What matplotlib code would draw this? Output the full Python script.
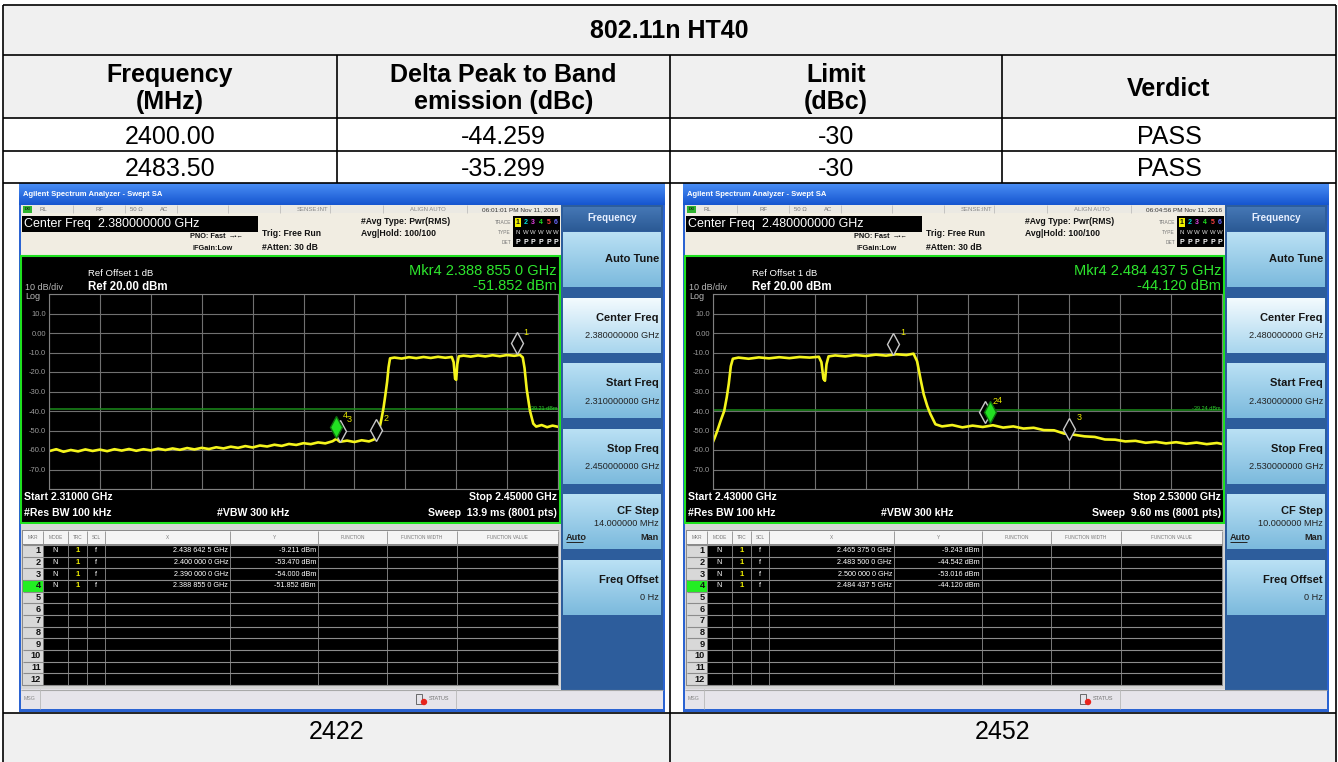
import numpy as np
import matplotlib
matplotlib.use("Agg")
import matplotlib.pyplot as plt
from matplotlib.patches import Rectangle, Circle
from matplotlib.transforms import ScaledTranslation
from matplotlib.colors import to_rgb

plt.rcParams['font.family'] = ['Liberation Sans', 'DejaVu Sans']

#================================================================================#
## table contents
table_title = "802.11n HT40"
col_headers = ["Frequency\n(MHz)", "Delta Peak to Band\nemission (dBc)", "Limit\n(dBc)", "Verdict"]
freq_mhz = ["2400.00", "2483.50"]
delta_dbc = ["-44.259", "-35.299"]
limit_dbc = ["-30", "-30"]
verdict = ["PASS", "PASS"]
channels = ["2422", "2452"]

## analyzer settings (left screen = ch 2422, right screen = ch 2452)
start_mhz = [2310, 2430]
stop_mhz = [2450, 2530]
sweep_txt = ["13.9 ms (8001 pts)", "9.60 ms (8001 pts)"]
time_txt = ["06:01:01 PM Nov 11, 2016", "06:04:56 PM Nov 11, 2016"]
display_line = [-39.21, -39.24]

## marker table, MKR 1..4
left_mkr_f = [2438.6425, 2400.0, 2390.0, 2388.855]
left_mkr_db = [-9.211, -53.470, -54.000, -51.852]
right_mkr_f = [2465.375, 2483.5, 2500.0, 2484.4375]
right_mkr_db = [-9.243, -44.542, -53.016, -44.120]

## traces (MHz, dBm)
left_trace = [
    (2310, -60.6), (2312, -59.6), (2314, -60.9), (2316, -60.0), (2318, -60.7), (2320, -59.7),
    (2322, -60.5), (2324, -59.8), (2326, -60.6), (2328, -59.6), (2330, -60.3), (2332, -59.5),
    (2334, -60.4), (2336, -59.6), (2338, -60.2), (2340, -59.3), (2342, -60.0), (2344, -59.2),
    (2346, -59.9), (2348, -59.0), (2350, -59.7), (2352, -58.9), (2354, -59.5), (2356, -58.6),
    (2358, -59.2), (2360, -58.3), (2362, -58.9), (2364, -58.0), (2366, -58.7), (2368, -57.7),
    (2370, -58.2), (2372, -57.3), (2374, -57.9), (2376, -56.9), (2378, -57.4), (2380, -56.5),
    (2382, -57.0), (2384, -56.1), (2386, -56.6), (2388, -55.5), (2389, -54.3), (2390, -55.8),
    (2392, -55.2), (2394, -55.9), (2396, -55.0), (2398, -55.6), (2399.4, -54.6), (2400.3, -52.5),
    (2401.0, -48.0), (2401.5, -43.5), (2402.0, -38.5), (2402.5, -32.0), (2403.0, -25.0),
    (2403.4, -17.5), (2403.8, -13.0), (2405, -12.6), (2407, -13.1), (2409, -12.4), (2411, -12.9),
    (2413, -12.3), (2415, -12.8), (2417, -12.2), (2419, -12.7), (2420.8, -12.3), (2421.3, -15.0),
    (2421.7, -23.5), (2422.0, -24.0), (2422.3, -16.0), (2422.7, -12.0), (2424, -11.6),
    (2426, -12.1), (2428, -11.5), (2430, -12.0), (2432, -11.4), (2434, -11.9), (2436, -11.3),
    (2438, -11.7), (2439.5, -11.2), (2440.3, -12.5), (2440.8, -18.0), (2441.4, -29.0),
    (2442.3, -40.0), (2443.2, -46.5), (2444.0, -48.0), (2445.5, -47.2), (2447, -48.3),
    (2448.5, -47.5), (2450, -48.1),
]
right_trace = [
    (2430.0, -55.8), (2430.3, -54.0), (2430.8, -50.5), (2431.5, -45.0), (2432.2, -40.0),
    (2432.7, -33.0), (2433.1, -26.0), (2433.5, -17.0), (2433.9, -13.2), (2435, -12.6),
    (2437, -13.2), (2439, -12.5), (2441, -13.0), (2443, -12.4), (2445, -12.9), (2447, -12.3),
    (2449, -12.6), (2450.8, -12.2), (2451.3, -15.0), (2451.7, -23.5), (2452.0, -24.5),
    (2452.3, -16.0), (2452.7, -12.0), (2454, -11.5), (2456, -12.0), (2458, -11.3), (2460, -11.8),
    (2462, -11.1), (2464, -11.6), (2466, -10.9), (2468, -11.3), (2469.4, -10.6), (2470.1, -14.5),
    (2470.8, -24.0), (2471.4, -31.5), (2472.1, -37.5), (2472.7, -41.5), (2473.7, -46.8),
    (2475, -47.9), (2477, -47.2), (2479, -48.4), (2481, -47.5), (2483, -48.2), (2485, -47.3),
    (2487, -48.5), (2489, -47.9), (2491, -49.0), (2493, -48.6), (2495, -49.8), (2497, -49.9),
    (2499, -51.6), (2501, -52.2), (2503, -53.0), (2505, -53.3), (2507, -54.6), (2509, -54.7),
    (2511, -55.6), (2513, -55.3), (2515, -56.3), (2517, -55.8), (2519, -56.6), (2521, -56.0),
    (2523, -56.8), (2525, -56.2), (2527, -57.0), (2529, -56.4), (2530, -56.9),
]
db_ticks = [20, 10, 0, -10, -20, -30, -40, -50, -60, -70, -80]
db_ticklabels = ["", "10.0", "0.00", "-10.0", "-20.0", "-30.0", "-40.0", "-50.0", "-60.0", "-70.0", ""]

#================================================================================#
W, H = 1338, 762
fig = plt.figure(figsize=(W / 100, H / 100), dpi=100)
bg = fig.add_axes([0, 0, 1, 1])
bg.axis('off')


def R(x, y, w, h, fc, ec='none', lw=0, z=1):
    bg.add_patch(Rectangle((x, y), w, h, facecolor=fc, edgecolor=ec, linewidth=lw, zorder=z))


def T(x, y, s, size, color='black', weight='normal', ha='left', va='center', z=6, **kw):
    bg.text(x, y, s, fontsize=size, color=color, fontweight=weight, ha=ha, va=va, zorder=z, **kw)


def L(xs, ys, color, lw, z=4):
    bg.plot(xs, ys, color=color, lw=lw, zorder=z, solid_capstyle='butt')


def grad(x, y, w, h, c1, c2, z=1.5):
    a, b = np.array(to_rgb(c1)), np.array(to_rgb(c2))
    t = np.linspace(0, 1, 24)[:, None, None]
    bg.imshow(a * (1 - t) + b * t, extent=(x, x + w, y + h, y), aspect='auto',
              interpolation='bilinear', zorder=z)


def ghz_spaced(f):
    s = "%.7f" % (f / 1000.0)
    return s[:5] + " " + s[5:8] + " " + s[8:] + " GHz"


#================================================================================#
## the table
R(3, 5, 1333, 50, '#f0f0f0')
R(3, 55, 1333, 63, '#f0f0f0')
R(3, 118, 1333, 65, 'white')
R(3, 183, 1333, 530, 'white')
R(3, 713, 1333, 49, '#f0f0f0')
tl = 1.2
for yy in [5, 55, 118, 151, 183, 713]:
    L([3, 1336], [yy, yy], 'black', tl, z=20)
L([3, 3], [5, 762], 'black', tl, z=20)
L([1336, 1336], [5, 762], 'black', tl, z=20)
L([670, 670], [55, 762], 'black', tl, z=20)
for xx in [337, 1002]:
    L([xx, xx], [55, 183], 'black', tl, z=20)

T(669.5, 31.5, table_title, 18, weight='bold', ha='center')
col_cx = [170, 503.5, 836, 1169]
for cx, h in zip(col_cx, col_headers):
    T(cx, 88.5, h, 18, weight='bold', ha='center', multialignment='center', linespacing=1.12)
for i in range(2):
    yy = 137 + 31.5 * i
    for cx, v in zip(col_cx, [freq_mhz[i], delta_dbc[i], limit_dbc[i], verdict[i]]):
        T(cx, yy, v, 18, ha='center')
T(336.5, 732, channels[0], 18, ha='center')
T(1003, 732, channels[1], 18, ha='center')


#================================================================================#
def draw_screen(k, x0, trace, mk_f, mk_db):
    d = x0 - 19
    X = lambda x: x + d
    start, stop = start_mhz[k], stop_mhz[k]
    center = (start + stop) / 2.0
    span = stop - start

    # window frame + title bar
    R(X(19), 183, 646, 529, '#2b63d2')
    grad(X(19), 183, 646, 22, '#4a8ef5', '#1656d0')
    T(X(23), 194, "Agilent Spectrum Analyzer - Swept SA", 5.5, 'white', 'bold')

    # status line
    R(X(21), 205, 540, 8, '#ebe9e3', z=2)
    for xs in [73, 125, 177, 228, 280, 330, 383, 467]:
        L([X(xs)] * 2, [205, 213], '#b5b5b5', 0.5)
    R(X(23), 206, 9, 6.5, '#2fb52f', z=3)
    T(X(27.5), 209.5, "LXI", 2.6, '#111', 'bold', ha='center')
    for xs, s in [(40, "RL"), (95, "RF"), (130, "50 Ω"), (160, "AC")]:
        T(X(xs), 209.5, s, 4.3, '#777')
    T(X(328), 209.5, "SENSE:INT", 4.3, '#888', ha='right')
    T(X(428), 209.5, "ALIGN AUTO", 4.3, '#888', ha='center')
    T(X(558), 209.5, time_txt[k], 4.6, '#333', ha='right')

    # info area
    R(X(21), 213, 540, 43, '#f1ede2', z=2)
    R(X(22), 216, 236, 16, 'black', z=3)
    T(X(24), 224.5, "Center Freq  %.9f GHz" % (center / 1000.0), 9, 'white')
    T(X(226), 237, "PNO: Fast", 5.3, '#111', 'bold', ha='right')
    T(X(229), 237, "→•←", 4.5, '#111')
    T(X(233), 248, "IFGain:Low", 5.3, '#111', 'bold', ha='right')
    T(X(262), 234, "Trig: Free Run", 6.2, '#111', 'bold')
    T(X(262), 247, "#Atten: 30 dB", 6.2, '#111', 'bold')
    T(X(361), 222, "#Avg Type: Pwr(RMS)", 6.2, '#111', 'bold')
    T(X(361), 233, "Avg|Hold: 100/100", 6.2, '#111', 'bold')
    R(X(513), 216, 47, 31, 'black', z=3)
    for yy, s in [(222, "TRACE"), (232, "TYPE"), (242, "DET")]:
        T(X(511), yy, s, 3.5, '#777', ha='right')
    tcol = ['#101010', '#00e0e0', '#e040e0', '#20e020', '#ff4040', '#6a6aff']
    R(X(514.5), 218, 6.5, 8.5, '#f0f000', z=4)
    for i in range(6):
        xx = X(518 + 7.6 * i)
        T(xx, 222.5, str(i + 1), 5, tcol[i], 'bold', ha='center')
        T(xx, 232.5, "N" if i == 0 else "W", 4.3, '#dddddd', ha='center')
        T(xx, 242.5, "P", 5, 'white', 'bold', ha='center')

    # plot frame
    R(X(21), 256, 539, 267, 'black', '#1fe01f', 1.5, z=2)
    T(X(25), 287, "10 dB/div", 6.5, '#b8b8b8')
    T(X(25), 296.5, "Log", 6.5, '#b8b8b8')
    T(X(88), 274, "Ref Offset 1 dB", 6.8, 'white')
    T(X(88), 287, "Ref 20.00 dBm", 8.3, 'white', 'bold')
    T(X(557), 271, "Mkr4 " + ghz_spaced(mk_f[3]), 10.5, '#2ee62e', ha='right')
    T(X(557), 286, "%.3f dBm" % mk_db[3], 10.5, '#2ee62e', ha='right')
    T(X(24), 497, "Start %.5f GHz" % (start / 1000.0), 7.6, 'white', 'bold')
    T(X(24), 513, "#Res BW 100 kHz", 7.6, 'white', 'bold')
    T(X(217), 513, "#VBW 300 kHz", 7.6, 'white', 'bold')
    T(X(557), 497, "Stop %.5f GHz" % (stop / 1000.0), 7.6, 'white', 'bold', ha='right')
    T(X(557), 513, "Sweep  " + sweep_txt[k], 7.6, 'white', 'bold', ha='right')

    # marker table
    R(X(21), 523.5, 540, 166, '#d6d6d6', z=2)
    R(X(22), 530, 537, 156, '#8a8a8a', z=2)
    R(X(22.5), 531, 536, 12.5, '#f4f4f4', z=3)
    edges = [22, 43, 68, 87, 105, 230, 318, 387, 457, 558]
    names = ["MKR", "MODE", "TRC", "SCL", "X", "Y", "FUNCTION", "FUNCTION WIDTH", "FUNCTION VALUE"]
    for i, nm in enumerate(names):
        T(X((edges[i] + edges[i + 1]) / 2.0), 537.5, nm, 3.4, '#777', ha='center')
    top, rh = 545.0, 11.67
    R(X(43), top, 515, 12 * rh, 'black', z=3)
    R(X(22.5), top, 20.5, 12 * rh, '#d8d8d8', z=3)
    R(X(22.5), top + 3 * rh, 20.5, rh, '#22ee22', z=3.5)
    for xs in edges:
        L([X(xs)] * 2, [531, top + 12 * rh], '#8c8c8c', 0.6)
    for r in range(13):
        L([X(22.5), X(558)], [top + r * rh] * 2, '#8c8c8c', 0.8)
    for r in range(12):
        yy = top + (r + 0.5) * rh
        T(X(41), yy, str(r + 1), 6.6, '#111', 'bold', ha='right')
        if r < 4:
            T(X(55.5), yy, "N", 5.2, 'white', ha='center')
            T(X(77.5), yy, "1", 5.6, '#f0f000', 'bold', ha='center')
            T(X(96), yy, "f", 5.2, 'white', ha='center')
            T(X(228), yy, ghz_spaced(mk_f[r]), 5.2, 'white', ha='right')
            T(X(316), yy, "%.3f dBm" % mk_db[r], 5.2, 'white', ha='right')

    # message bar
    R(X(21), 689, 642, 20, '#e6e4ea', z=2)
    L([X(21), X(663)], [689.5, 689.5], '#a8a8a8', 0.8)
    L([X(40)] * 2, [689, 709], '#b8b8b8', 0.6)
    L([X(456)] * 2, [689, 709], '#b8b8b8', 0.6)
    T(X(24), 699, "MSG", 3.8, '#888')
    R(X(416), 694, 6, 10, 'none', '#555555', 0.6, z=4)
    bg.add_patch(Circle((X(424), 702), 3.2, facecolor='#e8241c', edgecolor='none', zorder=5))
    T(X(428.5), 699, "STATUS", 4.0, '#777')

    # softkey panel
    R(X(561), 205, 102, 485, '#2d5d9c', z=2)
    grad(X(563), 207, 98, 24, '#4577b5', '#2b5a95', z=2.5)
    T(X(612), 218, "Frequency", 7, '#e8f0ff', 'bold', ha='center')
    keys = [("Auto Tune", None), ("Center Freq", "%.9f GHz" % (center / 1000.0)),
            ("Start Freq", "%.9f GHz" % (start / 1000.0)),
            ("Stop Freq", "%.9f GHz" % (stop / 1000.0)),
            ("CF Step", "%.6f MHz" % (span / 10.0)), ("Freq Offset", "0 Hz")]
    for i, (name, val) in enumerate(keys):
        ky = 232 + 65.6 * i
        if i == 1:
            grad(X(563), ky, 98, 55, '#f2fafe', '#a9d6ee', z=2.5)
        else:
            grad(X(563), ky, 98, 55, '#b9e0f4', '#7cbadd', z=2.5)
        if val is None:
            T(X(659), ky + 27, name, 8, '#161616', 'bold', ha='right')
        elif name == "CF Step":
            T(X(659), ky + 17, name, 8, '#161616', 'bold', ha='right')
            T(X(659), ky + 29, val, 6.6, '#222', ha='right')
            T(X(566), ky + 43, "Auto", 6.6, '#222', 'bold')
            L([X(566), X(583)], [ky + 48, ky + 48], '#222', 0.7)
            T(X(659), ky + 43, "Man", 6.6, '#222', 'bold', ha='right')
        else:
            T(X(659), ky + 20, name, 8, '#161616', 'bold', ha='right')
            T(X(659), ky + 38, val, 6.6, '#222', ha='right')

    # spectrum trace axes (grid area 509 x 195 px)
    ax = fig.add_axes([X(49) / W, 1 - 489.0 / H, 509.0 / W, 195.0 / H])
    ax.set_facecolor('black')
    ax.set_xlim(start, stop)
    ax.set_ylim(-80, 20)
    ax.set_xticks(np.linspace(start, stop, 11))
    ax.set_yticks(db_ticks)
    ax.set_yticklabels(db_ticklabels)
    ax.tick_params(length=0, labelbottom=False, labelleft=True, labelsize=5.5,
                   labelcolor='#9a9a9a', pad=2)
    ax.grid(True, color='#707070', lw=0.8)
    for sp in ax.spines.values():
        sp.set_color('#808080')
        sp.set_linewidth(0.8)
    ax.axhline(display_line[k], color='#1b8c1b', lw=1.1)
    ax.text(stop - 0.3, display_line[k] + 0.4, "%.2f dBm" % display_line[k], color='#2ec82e',
            fontsize=4, ha='right', va='center')
    tf = [p[0] for p in trace]
    tdb = [p[1] for p in trace]
    ax.plot(tf, tdb, color='#f4f41c', lw=1.9)

    # markers sit just above the trace point
    up = ax.transData + ScaledTranslation(0, 0.075, fig.dpi_scale_trans)
    for m in [0, 1, 2, 3]:
        active = (m == 3)
        ax.plot(mk_f[m], mk_db[m], marker='d', ms=11, transform=up, clip_on=False,
                mfc='#22e022' if active else 'black', mec='#0e6e0e' if active else '#c8c8c8',
                mew=1.0, zorder=6 if active else 5)
        ax.annotate(str(m + 1), (mk_f[m], mk_db[m]), xytext=(5, 13.5), textcoords='offset points',
                    color='#e8e800', fontsize=6.5, ha='left', va='center', zorder=7)
    return ax


draw_screen(0, 19, left_trace, left_mkr_f, left_mkr_db)
draw_screen(1, 683, right_trace, right_mkr_f, right_mkr_db)

bg.set_xlim(0, W)
bg.set_ylim(H, 0)
fig.savefig("out.png", dpi=100)
